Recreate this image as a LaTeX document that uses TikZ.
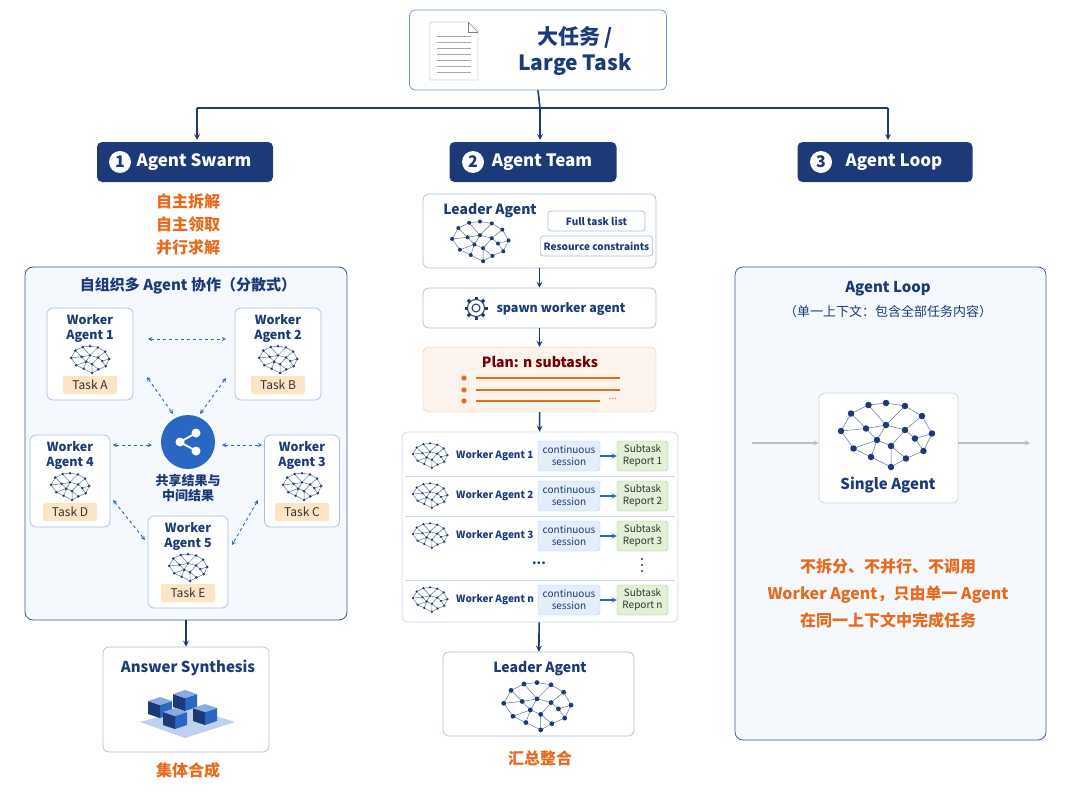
\documentclass[tikz,border=0pt]{standalone}
\usepackage{fontspec}
\setmainfont{Noto Sans CJK SC}
\usetikzlibrary{positioning}
\definecolor{navy}{HTML}{1C3A78}
\definecolor{midblue}{HTML}{2A66C4}
\definecolor{panelfill}{HTML}{F5F8FD}
\definecolor{panelline}{HTML}{3A5A9A}
\definecolor{boxline}{HTML}{A9BEDF}
\definecolor{orng}{HTML}{E86A1C}
\definecolor{taskfill}{HTML}{FBE5C4}
\definecolor{sessfill}{HTML}{E3EEFA}
\definecolor{repfill}{HTML}{E2F0D6}
\definecolor{repline}{HTML}{9BC78A}
\newcommand{\fs}[1]{\fontsize{#1}{\dimexpr #1pt*6/5\relax}\selectfont}
\tikzset{
  brain/.pic={
    \foreach \i/\bx/\by in {1/-0.9/-0.1,2/-0.7/-0.45,3/-0.35/-0.62,4/0/-0.66,5/0.38/-0.6,6/0.72/-0.4,7/0.92/-0.05,8/0.75/0.3,9/0.4/0.45,10/0.1/0.62,11/-0.3/0.42,12/-0.65/0.25,13/-0.4/-0.15,14/0/-0.22,15/0.38/-0.12,16/0.1/0.2,17/-0.18/0.08,18/0.58/0.05}
      {\coordinate (-b\i) at (\bx,\by);}
    \draw[navy!70, line width=0.5pt] (-b1)--(-b2)--(-b3)--(-b4)--(-b5)--(-b6)--(-b7)--(-b8)--(-b9)--(-b10)--(-b11)--(-b12)--cycle
      (-b2)--(-b13)--(-b14)--(-b15)--(-b18)--(-b8) (-b3)--(-b14)--(-b5) (-b13)--(-b17)--(-b16)--(-b9)
      (-b1)--(-b13) (-b17)--(-b11) (-b14)--(-b17) (-b15)--(-b16)--(-b10) (-b6)--(-b15) (-b12)--(-b17) (-b18)--(-b7);
    \foreach \i in {1,...,18} {\fill[navy] (-b\i) circle[radius=0.065];}
  },
  panel/.style={draw=panelline, fill=panelfill, rounded corners=8pt, line width=0.8pt},
  card/.style={draw=boxline, fill=white, rounded corners=6pt, line width=0.7pt},
  pill/.style={fill=navy, rounded corners=5pt, text=white, font=\fs{17}\bfseries},
  ttl/.style={text=navy, font=\fs{14}\bfseries, align=center},
  orangetxt/.style={text=orng, font=\fs{16}\bfseries, align=center},
  tasklbl/.style={fill=taskfill, rounded corners=2pt, text=black!80, font=\fs{12}, minimum width=54pt, minimum height=18pt, inner sep=1pt},
  arrow/.style={->, >=stealth, navy, line width=1.6pt},
  link/.style={<->, >=stealth, midblue, dashed, line width=0.9pt},
}
\begin{document}
\begin{tikzpicture}[x=1pt, y=-1pt]
    \useasboundingbox (0,0) rectangle (1080,808);

    % Large task
    \node[card, draw=midblue!70, minimum width=257pt, minimum height=80pt] (task) at (538,50) {};
    \draw[gray, fill=white] (430,22) -- (468,22) -- (478,32) -- (478,80) -- (430,80) -- cycle;
    \draw[gray] (468,22) -- (468,32) -- (478,32);
    \foreach \yy in {36,42,...,72} {\draw[gray!70] (437,\yy) -- (471,\yy);}
    \node[ttl, font=\fs{21}\bfseries] (tasktxt) at (575,51) {大任务 /\\Large Task};

    % Branches
    \coordinate (split) at (540,108);
    \node[pill, minimum width=176pt, minimum height=40pt] (swarm) at (185,162) {\hspace{18pt}Agent Swarm};
    \node[pill, minimum width=167pt, minimum height=40pt] (team) at (533,162) {\hspace{18pt}Agent Team};
    \node[pill, minimum width=175pt, minimum height=40pt] (loop) at (885,162) {\hspace{18pt}Agent Loop};
    \foreach \n/\xx in {1/120,2/473,3/821}
      {\node[circle, fill=white, text=navy, font=\fs{16}\bfseries, minimum size=22pt, inner sep=0pt] (num\n) at (\xx,162) {\n};}
    \draw[navy, line width=1.6pt] (task.south) -- (split);
    \draw[navy, line width=1.6pt] (197,108) -- (888,108);
    \draw[arrow] (197,108) -- (197,140);
    \draw[arrow] (split) -- (540,140);
    \draw[arrow] (888,108) -- (888,140);

    % Agent Swarm
    \node[orangetxt, font=\fontsize{16}{23}\selectfont\bfseries] (swarmtxt) at (188,224) {自主拆解\\自主领取\\并行求解};
    \node[panel, minimum width=322pt, minimum height=353pt] (swarmpanel) at (186,443.5) {};
    \node[ttl, font=\fs{15}\bfseries] (swarmttl) at (188,286) {自组织多 Agent 协作（分散式）};
    \foreach \k/\cx/\cy/\w/\t in {1/90/354/86/A,2/278/354/86/B,4/70/481/80/D,3/302/481/75/C,5/188/562/80/E}{
      \node[card, minimum width=\w pt, minimum height=92pt] (w\k) at (\cx,\cy) {};
      \node[ttl, font=\fs{12.5}\bfseries, inner sep=0pt] (w\k t) at (\cx,\cy-26) {Worker\\Agent \k};
      \pic[scale=21] (w\k b) at (\cx,\cy+6) {brain};
      \node[tasklbl] (w\k task) at (\cx,\cy+31) {Task \t};
    }
    \node[circle, fill=midblue, minimum size=54pt] (hub) at (188,442) {};
    \fill[white] (180,442) circle (4.5pt) (196,433) circle (4.5pt) (196,451) circle (4.5pt);
    \draw[white, line width=1.8pt] (196,433) -- (180,442) -- (196,451);
    \node[ttl, font=\fs{13}\bfseries] (hubtxt) at (188,488) {共享结果与\\中间结果};
    \draw[link] (148,339) -- (226,339);
    \draw[link] (147,377) -- (173,414);
    \draw[link] (226,378) -- (200,414);
    \draw[link] (113,445) -- (152,445);
    \draw[link] (222,445) -- (262,445);
    \draw[link] (113,500) -- (145,540);
    \draw[link] (258,500) -- (232,545);

    % Answer synthesis
    \node[card, minimum width=166pt, minimum height=105pt] (synth) at (186,699.5) {};
    \draw[arrow] (swarmpanel.south) -- (synth.north);
    \node[ttl, font=\fs{15}\bfseries] (synthttl) at (188,668) {Answer Synthesis};
    \fill[midblue!30] (140,722) -- (190,708) -- (235,722) -- (185,738) -- cycle;
    \foreach \bx/\by in {160/705,185/698,205/712,175/716}{
      \fill[midblue] (\bx,\by) -- (\bx+12,\by-4) -- (\bx+12,\by+9) -- (\bx,\by+13) -- cycle;
      \fill[navy] (\bx,\by) -- (\bx-12,\by-4) -- (\bx-12,\by+9) -- (\bx,\by+13) -- cycle;
      \fill[midblue!55] (\bx,\by) -- (\bx+12,\by-4) -- (\bx,\by-8) -- (\bx-12,\by-4) -- cycle;
    }
    \node[orangetxt] (synthtxt) at (188,770) {集体合成};

    % Agent Team
    \node[card, minimum width=233pt, minimum height=74pt] (leader) at (539.5,231) {};
    \node[ttl, font=\fs{14}\bfseries] (leaderttl) at (490,211) {Leader Agent};
    \pic[scale=31] (lb) at (480,242) {brain};
    \node[card, rounded corners=3pt, minimum width=97pt, minimum height=20pt, font=\fs{10}\bfseries, text=navy] (fulllist) at (596.5,221) {Full task list};
    \node[card, rounded corners=3pt, minimum width=97pt, minimum height=20pt, font=\fs{10}\bfseries, text=navy] (resource) at (596.5,246) {Resource constraints};
    \node[card, minimum width=233pt, minimum height=40pt] (spawn) at (539.5,308) {};
    \draw[navy, line width=1pt] (476,308) circle (4pt);
    \draw[navy, line width=1pt] (476,308) circle (8.5pt);
    \foreach \a in {0,45,...,315} {\draw[navy, line width=3pt] (476,308) ++(\a:8.5pt) -- ++(\a:3pt);}
    \node[text=navy, font=\fs{12.5}\bfseries] (spawntxt) at (561,309) {spawn worker agent};
    \node[draw=orng!45, fill=orng!8, rounded corners=6pt, minimum width=233pt, minimum height=65pt] (plan) at (539.5,379.5) {};
    \node[text=red!45!black, font=\fs{14}\bfseries] (plantxt) at (540,362) {Plan: n subtasks};
    \foreach \yy/\xe in {378/620,390/620,401/600}{
      \fill[orng] (464,\yy) circle (2.6pt);
      \draw[orng, line width=1.6pt] (476,\yy) -- (\xe,\yy);
    }
    \node[text=orng, font=\fs{10}] (plandots) at (613,399) {...};
    \node[card, draw=boxline!60, minimum width=276pt, minimum height=190pt] (workers) at (540,527) {};
    \foreach \yy in {476,516,580} {\draw[boxline!60] (405,\yy) -- (675,\yy);}
    \foreach \k/\yy in {1/456,2/496,3/536,n/600}{
      \pic[scale=19] (tb\k) at (430,\yy) {brain};
      \node[text=navy, font=\fs{10}\bfseries, anchor=west, inner sep=0pt] (tw\k) at (456,\yy) {Worker Agent \k};
      \node[draw=boxline!80, fill=sessfill, rounded corners=3pt, minimum width=62pt, minimum height=30pt, align=center, text=navy, font=\fs{10}, inner sep=1pt] (ts\k) at (569,\yy) {continuous\\session};
      \node[draw=repline, fill=repfill, rounded corners=3pt, minimum width=51pt, minimum height=30pt, align=center, text=black!80, font=\fs{10}, inner sep=1pt] (tr\k) at (642.5,\yy) {Subtask\\Report \k};
      \draw[->, >=stealth, midblue, line width=1.2pt] (ts\k) -- (tr\k);
    }
    \node[text=navy, font=\fs{13}\bfseries] (tdots) at (539,563) {...};
    \fill[navy] (642,559) circle (1.2pt) (642,565) circle (1.2pt) (642,571) circle (1.2pt);
    \node[card, minimum width=191pt, minimum height=84pt] (leader2) at (538.5,694) {};
    \node[ttl, font=\fs{14}\bfseries] (leader2ttl) at (540,669) {Leader Agent};
    \pic[scale=37] (l2b) at (537,707) {brain};
    \draw[arrow] (leader) -- (spawn);
    \draw[arrow] (spawn) -- (plan);
    \draw[arrow] (plan) -- (workers);
    \draw[arrow] (workers) -- (leader2);
    \node[orangetxt] (teamtxt) at (540,758) {汇总整合};

    % Agent Loop
    \node[panel, minimum width=311pt, minimum height=473pt] (looppanel) at (890.5,503.5) {};
    \node[ttl, font=\fs{15}\bfseries] (loopttl) at (888,289) {Agent Loop};
    \node[text=navy, font=\fs{13}] (loopsub) at (888,312) {（单一上下文：包含全部任务内容）};
    \node[card, draw=gray!35, minimum width=139pt, minimum height=110pt] (single) at (888.5,448) {};
    \pic[scale=50] (sb) at (886,436) {brain};
    \node[ttl, font=\fs{15}\bfseries] (singletxt) at (888,485) {Single Agent};
    \coordinate (inL) at (752,443);
    \coordinate (outR) at (1030,443);
    \draw[->, >=stealth, gray!50, line width=1.3pt] (inL) -- (single.west |- inL);
    \draw[->, >=stealth, gray!50, line width=1.3pt] (single.east |- outR) -- (outR);
    \node[orangetxt, font=\fontsize{16}{27}\selectfont\bfseries] (looptxt) at (888,593) {不拆分、不并行、不调用\\Worker Agent，只由单一 Agent\\在同一上下文中完成任务};
\end{tikzpicture}
\end{document}
